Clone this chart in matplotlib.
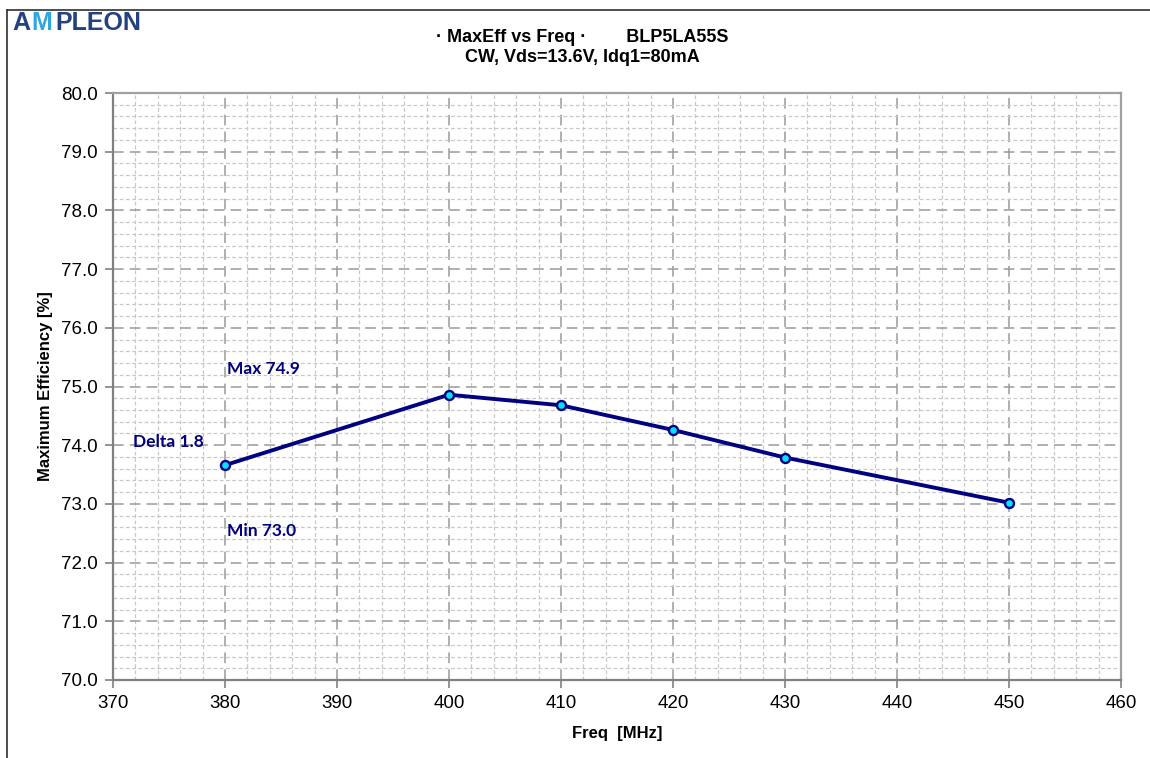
import matplotlib.pyplot as plt
from matplotlib.ticker import MultipleLocator, FormatStrFormatter
from matplotlib.lines import Line2D

# Datos
freq = [380, 400, 410, 420, 430, 450]
max_eff = [73.66, 74.86, 74.68, 74.26, 73.79, 73.02]

titulo1 = "· MaxEff vs Freq ·        BLP5LA55S"
titulo2 = "CW, Vds=13.6V, Idq1=80mA"

plt.rcParams['font.family'] = ['Liberation Sans', 'DejaVu Sans']

fig = plt.figure(figsize=(11.5, 7.58), dpi=100)
ax = fig.add_axes([113 / 1150, 1 - 680 / 758, 1008 / 1150, 587 / 758])

navy = '#000080'
ax.plot(freq, max_eff, color=navy, lw=2.8, marker='o', markersize=6.5,
        markerfacecolor='#00E5FF', markeredgecolor=navy, markeredgewidth=1.7,
        zorder=5)

ax.set_xlim(370, 460)
ax.set_ylim(70, 80)
ax.xaxis.set_major_locator(MultipleLocator(10))
ax.xaxis.set_minor_locator(MultipleLocator(2))
ax.yaxis.set_major_locator(MultipleLocator(1))
ax.yaxis.set_minor_locator(MultipleLocator(0.2))
ax.yaxis.set_major_formatter(FormatStrFormatter('%.1f'))

ax.grid(which='minor', color='#c8c8c8', linestyle=(0, (3, 2)), lw=0.9)
ax.grid(which='major', color='#9a9a9a', linestyle=(0, (7, 4)), lw=1.1)
ax.set_axisbelow(True)

for s in ax.spines.values():
    s.set_color('#a0a0a0')
    s.set_linewidth(1.6)
ax.spines['left'].set_color('#808080')
ax.spines['bottom'].set_color('#808080')

ax.tick_params(which='major', direction='out', length=6, width=1.2,
               color='#808080', labelsize=13.5, pad=5)
ax.tick_params(which='minor', length=0)

ax.set_xlabel("Freq  [MHz]", fontsize=12, fontweight='bold', labelpad=10)
ax.set_ylabel("Maximum Efficiency [%]", fontsize=12, fontweight='bold', labelpad=6)

fig.text(582 / 1150, 1 - 38 / 758, titulo1, ha='center', va='center',
         fontsize=13, fontweight='bold')
fig.text(582 / 1150, 1 - 58 / 758, titulo2, ha='center', va='center',
         fontsize=13, fontweight='bold')

# Anotaciones max / min / delta
vmax = max(max_eff)
vmin = min(max_eff)
anot = dict(color=navy, fontsize=12.5, fontweight='bold', family=['Lato', 'DejaVu Sans'])
ax.text(380.2, 75.30, f"Max {vmax:.1f}", ha='left', va='center', **anot)
ax.text(371.8, 74.05, f"Delta {vmax - vmin:.1f}", ha='left', va='center', **anot)
ax.text(380.2, 72.54, f"Min {vmin:.1f}", ha='left', va='center', **anot)

# Logo
logo = dict(fontsize=18, fontweight='bold', va='center', ha='left')
fig.text(12 / 1150, 1 - 23 / 758, "A", color='#24427f', **logo)
fig.text(31 / 1150, 1 - 23 / 758, "M", color='#2ea6e0', **logo)
fig.text(55 / 1150, 1 - 23 / 758, "PLEON", color='#24427f', **logo)

# Marco de la figura (borde izquierdo y superior)
fig.add_artist(Line2D([7 / 1150, 7 / 1150], [0, 1 - 10 / 758], color='#303030', lw=1.2))
fig.add_artist(Line2D([7 / 1150, 1], [1 - 10 / 758, 1 - 10 / 758], color='#303030', lw=1.2))

fig.savefig("out.png", dpi=100)
plt.close()
